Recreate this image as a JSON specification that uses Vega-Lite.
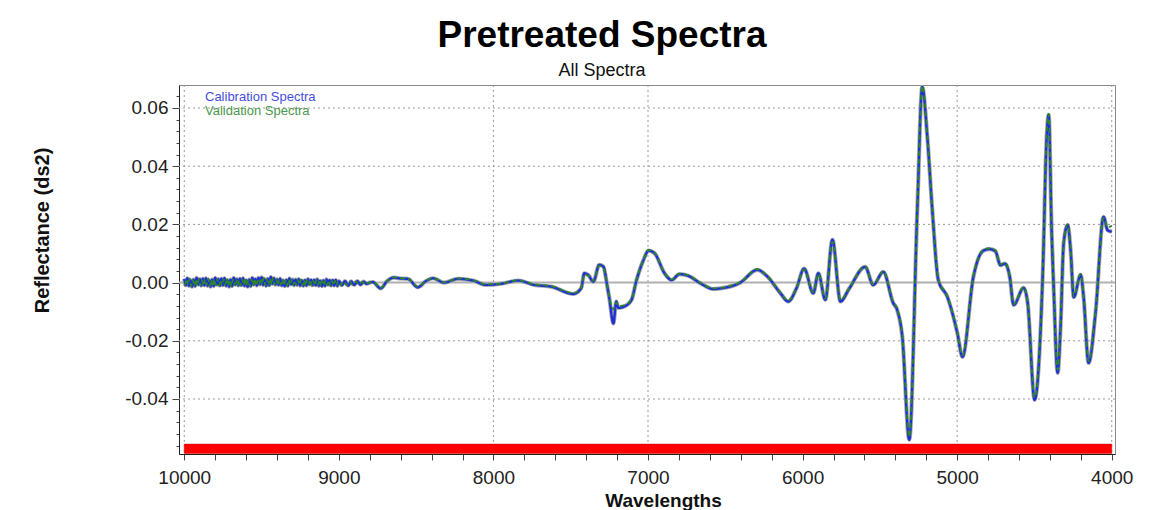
{
  "$schema": "https://vega.github.io/schema/vega-lite/v6.json",
  "autosize": {"type": "none"},
  "width": 936,
  "height": 369,
  "padding": {"left": 179, "top": 85, "right": 45, "bottom": 56},
  "background": "#ffffff",
  "config": {
    "view": {"stroke": "#8a8a8a", "strokeWidth": 1},
    "font": "Liberation Sans",
    "legend": {
      "orient": "none", "legendX": 13, "legendY": 5, "title": null,
      "symbolSize": 0, "symbolOpacity": 0, "symbolStrokeWidth": 0,
      "labelFont": "Liberation Sans", "labelFontSize": 13, "rowPadding": 0,
      "labelOffset": 0, "padding": 0, "labelLimit": 0,
      "labelColor": "#4040c0"
    }
  },
  "title": {
    "text": "Pretreated Spectra", "subtitle": "All Spectra",
    "anchor": "middle", "frame": "group", "dx": -45, "offset": 4,
    "font": "Liberation Sans", "fontSize": 37, "fontWeight": "bold", "color": "#000000",
    "subtitleFont": "Liberation Sans", "subtitleFontSize": 18, "subtitleColor": "#111111", "subtitlePadding": 7
  },
  "datasets": {
    "bar": [{"a": 10000, "b": 4000, "lo": -0.0555, "hi": -0.0587}],
    "gh": [{"g": 0.06}, {"g": 0.04}, {"g": 0.02}, {"g": -0.02}, {"g": -0.04}],
    "gv": [{"g": 10000}, {"g": 8000}, {"g": 7000}, {"g": 5000}, {"g": 4000}],
    "zero": [{"z": 0}],
    "spectra": [
      {"s": "Calibration Spectra", "w": 10000, "v": 0.0013},
      {"s": "Calibration Spectra", "w": 9990, "v": -0.0009},
      {"s": "Calibration Spectra", "w": 9980, "v": 0.0015},
      {"s": "Calibration Spectra", "w": 9970, "v": -0.0011},
      {"s": "Calibration Spectra", "w": 9960, "v": 0.0008},
      {"s": "Calibration Spectra", "w": 9950, "v": -0.0014},
      {"s": "Calibration Spectra", "w": 9940, "v": 0.0010},
      {"s": "Calibration Spectra", "w": 9930, "v": -0.0012},
      {"s": "Calibration Spectra", "w": 9920, "v": 0.0016},
      {"s": "Calibration Spectra", "w": 9910, "v": -0.0007},
      {"s": "Calibration Spectra", "w": 9900, "v": 0.0012},
      {"s": "Calibration Spectra", "w": 9890, "v": -0.0010},
      {"s": "Calibration Spectra", "w": 9880, "v": 0.0013},
      {"s": "Calibration Spectra", "w": 9870, "v": -0.0009},
      {"s": "Calibration Spectra", "w": 9860, "v": 0.0015},
      {"s": "Calibration Spectra", "w": 9850, "v": -0.0011},
      {"s": "Calibration Spectra", "w": 9840, "v": 0.0008},
      {"s": "Calibration Spectra", "w": 9830, "v": -0.0014},
      {"s": "Calibration Spectra", "w": 9820, "v": 0.0010},
      {"s": "Calibration Spectra", "w": 9810, "v": -0.0012},
      {"s": "Calibration Spectra", "w": 9800, "v": 0.0016},
      {"s": "Calibration Spectra", "w": 9790, "v": -0.0007},
      {"s": "Calibration Spectra", "w": 9780, "v": 0.0012},
      {"s": "Calibration Spectra", "w": 9770, "v": -0.0010},
      {"s": "Calibration Spectra", "w": 9760, "v": 0.0013},
      {"s": "Calibration Spectra", "w": 9750, "v": -0.0009},
      {"s": "Calibration Spectra", "w": 9740, "v": 0.0015},
      {"s": "Calibration Spectra", "w": 9730, "v": -0.0011},
      {"s": "Calibration Spectra", "w": 9720, "v": 0.0008},
      {"s": "Calibration Spectra", "w": 9710, "v": -0.0014},
      {"s": "Calibration Spectra", "w": 9700, "v": 0.0010},
      {"s": "Calibration Spectra", "w": 9690, "v": -0.0012},
      {"s": "Calibration Spectra", "w": 9680, "v": 0.0016},
      {"s": "Calibration Spectra", "w": 9670, "v": -0.0007},
      {"s": "Calibration Spectra", "w": 9660, "v": 0.0012},
      {"s": "Calibration Spectra", "w": 9650, "v": -0.0010},
      {"s": "Calibration Spectra", "w": 9640, "v": 0.0013},
      {"s": "Calibration Spectra", "w": 9630, "v": -0.0009},
      {"s": "Calibration Spectra", "w": 9620, "v": 0.0015},
      {"s": "Calibration Spectra", "w": 9610, "v": -0.0011},
      {"s": "Calibration Spectra", "w": 9600, "v": 0.0008},
      {"s": "Calibration Spectra", "w": 9590, "v": -0.0014},
      {"s": "Calibration Spectra", "w": 9580, "v": 0.0010},
      {"s": "Calibration Spectra", "w": 9570, "v": -0.0012},
      {"s": "Calibration Spectra", "w": 9560, "v": 0.0016},
      {"s": "Calibration Spectra", "w": 9550, "v": -0.0007},
      {"s": "Calibration Spectra", "w": 9540, "v": 0.0012},
      {"s": "Calibration Spectra", "w": 9530, "v": -0.0010},
      {"s": "Calibration Spectra", "w": 9520, "v": 0.0016},
      {"s": "Calibration Spectra", "w": 9510, "v": -0.0006},
      {"s": "Calibration Spectra", "w": 9500, "v": 0.0018},
      {"s": "Calibration Spectra", "w": 9490, "v": -0.0008},
      {"s": "Calibration Spectra", "w": 9480, "v": 0.0011},
      {"s": "Calibration Spectra", "w": 9470, "v": -0.0011},
      {"s": "Calibration Spectra", "w": 9460, "v": 0.0013},
      {"s": "Calibration Spectra", "w": 9450, "v": -0.0009},
      {"s": "Calibration Spectra", "w": 9440, "v": 0.0019},
      {"s": "Calibration Spectra", "w": 9430, "v": -0.0004},
      {"s": "Calibration Spectra", "w": 9420, "v": 0.0015},
      {"s": "Calibration Spectra", "w": 9410, "v": -0.0007},
      {"s": "Calibration Spectra", "w": 9400, "v": 0.0011},
      {"s": "Calibration Spectra", "w": 9390, "v": -0.0008},
      {"s": "Calibration Spectra", "w": 9380, "v": 0.0013},
      {"s": "Calibration Spectra", "w": 9370, "v": -0.0010},
      {"s": "Calibration Spectra", "w": 9360, "v": 0.0007},
      {"s": "Calibration Spectra", "w": 9350, "v": -0.0012},
      {"s": "Calibration Spectra", "w": 9340, "v": 0.0009},
      {"s": "Calibration Spectra", "w": 9330, "v": -0.0011},
      {"s": "Calibration Spectra", "w": 9320, "v": 0.0014},
      {"s": "Calibration Spectra", "w": 9310, "v": -0.0006},
      {"s": "Calibration Spectra", "w": 9300, "v": 0.0010},
      {"s": "Calibration Spectra", "w": 9290, "v": -0.0009},
      {"s": "Calibration Spectra", "w": 9280, "v": 0.0010},
      {"s": "Calibration Spectra", "w": 9270, "v": -0.0008},
      {"s": "Calibration Spectra", "w": 9260, "v": 0.0012},
      {"s": "Calibration Spectra", "w": 9250, "v": -0.0010},
      {"s": "Calibration Spectra", "w": 9240, "v": 0.0007},
      {"s": "Calibration Spectra", "w": 9230, "v": -0.0011},
      {"s": "Calibration Spectra", "w": 9220, "v": 0.0008},
      {"s": "Calibration Spectra", "w": 9210, "v": -0.0010},
      {"s": "Calibration Spectra", "w": 9200, "v": 0.0012},
      {"s": "Calibration Spectra", "w": 9190, "v": -0.0006},
      {"s": "Calibration Spectra", "w": 9180, "v": 0.0009},
      {"s": "Calibration Spectra", "w": 9170, "v": -0.0009},
      {"s": "Calibration Spectra", "w": 9160, "v": 0.0009},
      {"s": "Calibration Spectra", "w": 9150, "v": -0.0009},
      {"s": "Calibration Spectra", "w": 9140, "v": 0.0011},
      {"s": "Calibration Spectra", "w": 9130, "v": -0.0011},
      {"s": "Calibration Spectra", "w": 9120, "v": 0.0006},
      {"s": "Calibration Spectra", "w": 9110, "v": -0.0012},
      {"s": "Calibration Spectra", "w": 9100, "v": 0.0007},
      {"s": "Calibration Spectra", "w": 9090, "v": -0.0011},
      {"s": "Calibration Spectra", "w": 9080, "v": 0.0011},
      {"s": "Calibration Spectra", "w": 9070, "v": -0.0007},
      {"s": "Calibration Spectra", "w": 9060, "v": 0.0008},
      {"s": "Calibration Spectra", "w": 9050, "v": -0.0010},
      {"s": "Calibration Spectra", "w": 9040, "v": 0.0008},
      {"s": "Calibration Spectra", "w": 9030, "v": -0.0010},
      {"s": "Calibration Spectra", "w": 9020, "v": 0.0009},
      {"s": "Calibration Spectra", "w": 9010, "v": -0.0011},
      {"s": "Calibration Spectra", "w": 9000, "v": 0.0005},
      {"s": "Calibration Spectra", "w": 8980, "v": -0.0009},
      {"s": "Calibration Spectra", "w": 8960, "v": 0.0005},
      {"s": "Calibration Spectra", "w": 8940, "v": -0.0010},
      {"s": "Calibration Spectra", "w": 8920, "v": 0.0004},
      {"s": "Calibration Spectra", "w": 8900, "v": -0.0008},
      {"s": "Calibration Spectra", "w": 8880, "v": 0.0005},
      {"s": "Calibration Spectra", "w": 8860, "v": -0.0007},
      {"s": "Calibration Spectra", "w": 8840, "v": 0.0003},
      {"s": "Calibration Spectra", "w": 8820, "v": -0.0004},
      {"s": "Calibration Spectra", "w": 8800, "v": 0.0000},
      {"s": "Calibration Spectra", "w": 8781, "v": 0.0002},
      {"s": "Calibration Spectra", "w": 8729, "v": -0.0020},
      {"s": "Calibration Spectra", "w": 8690, "v": 0.0004},
      {"s": "Calibration Spectra", "w": 8644, "v": 0.0017},
      {"s": "Calibration Spectra", "w": 8600, "v": 0.0014},
      {"s": "Calibration Spectra", "w": 8554, "v": 0.0013},
      {"s": "Calibration Spectra", "w": 8489, "v": -0.0016},
      {"s": "Calibration Spectra", "w": 8440, "v": 0.0004},
      {"s": "Calibration Spectra", "w": 8391, "v": 0.0015},
      {"s": "Calibration Spectra", "w": 8320, "v": 0.0000},
      {"s": "Calibration Spectra", "w": 8229, "v": 0.0013},
      {"s": "Calibration Spectra", "w": 8126, "v": 0.0006},
      {"s": "Calibration Spectra", "w": 8048, "v": -0.0008},
      {"s": "Calibration Spectra", "w": 7950, "v": -0.0004},
      {"s": "Calibration Spectra", "w": 7840, "v": 0.0007},
      {"s": "Calibration Spectra", "w": 7736, "v": -0.0008},
      {"s": "Calibration Spectra", "w": 7626, "v": -0.0014},
      {"s": "Calibration Spectra", "w": 7483, "v": -0.0039},
      {"s": "Calibration Spectra", "w": 7432, "v": -0.0019},
      {"s": "Calibration Spectra", "w": 7412, "v": 0.0032},
      {"s": "Calibration Spectra", "w": 7386, "v": 0.0026},
      {"s": "Calibration Spectra", "w": 7354, "v": 0.0003},
      {"s": "Calibration Spectra", "w": 7315, "v": 0.0061},
      {"s": "Calibration Spectra", "w": 7289, "v": 0.0055},
      {"s": "Calibration Spectra", "w": 7263, "v": -0.0014},
      {"s": "Calibration Spectra", "w": 7250, "v": -0.0054},
      {"s": "Calibration Spectra", "w": 7224, "v": -0.0140},
      {"s": "Calibration Spectra", "w": 7205, "v": -0.0065},
      {"s": "Calibration Spectra", "w": 7192, "v": -0.0087},
      {"s": "Calibration Spectra", "w": 7153, "v": -0.0082},
      {"s": "Calibration Spectra", "w": 7107, "v": -0.0060},
      {"s": "Calibration Spectra", "w": 7075, "v": 0.0007},
      {"s": "Calibration Spectra", "w": 7029, "v": 0.0078},
      {"s": "Calibration Spectra", "w": 6997, "v": 0.0110},
      {"s": "Calibration Spectra", "w": 6958, "v": 0.0101},
      {"s": "Calibration Spectra", "w": 6893, "v": 0.0032},
      {"s": "Calibration Spectra", "w": 6848, "v": 0.0009},
      {"s": "Calibration Spectra", "w": 6796, "v": 0.0029},
      {"s": "Calibration Spectra", "w": 6738, "v": 0.0023},
      {"s": "Calibration Spectra", "w": 6662, "v": -0.0002},
      {"s": "Calibration Spectra", "w": 6578, "v": -0.0022},
      {"s": "Calibration Spectra", "w": 6532, "v": -0.0020},
      {"s": "Calibration Spectra", "w": 6403, "v": 0.0000},
      {"s": "Calibration Spectra", "w": 6293, "v": 0.0044},
      {"s": "Calibration Spectra", "w": 6228, "v": 0.0021},
      {"s": "Calibration Spectra", "w": 6144, "v": -0.0036},
      {"s": "Calibration Spectra", "w": 6093, "v": -0.0065},
      {"s": "Calibration Spectra", "w": 6040, "v": -0.0020},
      {"s": "Calibration Spectra", "w": 5990, "v": 0.0048},
      {"s": "Calibration Spectra", "w": 5931, "v": -0.0036},
      {"s": "Calibration Spectra", "w": 5898, "v": 0.0032},
      {"s": "Calibration Spectra", "w": 5853, "v": -0.0059},
      {"s": "Calibration Spectra", "w": 5807, "v": 0.0147},
      {"s": "Calibration Spectra", "w": 5755, "v": -0.0065},
      {"s": "Calibration Spectra", "w": 5700, "v": -0.0022},
      {"s": "Calibration Spectra", "w": 5595, "v": 0.0054},
      {"s": "Calibration Spectra", "w": 5543, "v": -0.0008},
      {"s": "Calibration Spectra", "w": 5478, "v": 0.0037},
      {"s": "Calibration Spectra", "w": 5414, "v": -0.0070},
      {"s": "Calibration Spectra", "w": 5388, "v": -0.0094},
      {"s": "Calibration Spectra", "w": 5355, "v": -0.0186},
      {"s": "Calibration Spectra", "w": 5310, "v": -0.0540},
      {"s": "Calibration Spectra", "w": 5258, "v": 0.0250},
      {"s": "Calibration Spectra", "w": 5226, "v": 0.0672},
      {"s": "Calibration Spectra", "w": 5193, "v": 0.0500},
      {"s": "Calibration Spectra", "w": 5161, "v": 0.0250},
      {"s": "Calibration Spectra", "w": 5122, "v": 0.0009},
      {"s": "Calibration Spectra", "w": 5063, "v": -0.0050},
      {"s": "Calibration Spectra", "w": 4999, "v": -0.0173},
      {"s": "Calibration Spectra", "w": 4966, "v": -0.0255},
      {"s": "Calibration Spectra", "w": 4895, "v": 0.0020},
      {"s": "Calibration Spectra", "w": 4830, "v": 0.0110},
      {"s": "Calibration Spectra", "w": 4790, "v": 0.0115},
      {"s": "Calibration Spectra", "w": 4753, "v": 0.0108},
      {"s": "Calibration Spectra", "w": 4720, "v": 0.0060},
      {"s": "Calibration Spectra", "w": 4690, "v": 0.0065},
      {"s": "Calibration Spectra", "w": 4660, "v": 0.0020},
      {"s": "Calibration Spectra", "w": 4635, "v": -0.0077},
      {"s": "Calibration Spectra", "w": 4570, "v": -0.0018},
      {"s": "Calibration Spectra", "w": 4544, "v": -0.0070},
      {"s": "Calibration Spectra", "w": 4499, "v": -0.0403},
      {"s": "Calibration Spectra", "w": 4447, "v": 0.0020},
      {"s": "Calibration Spectra", "w": 4421, "v": 0.0500},
      {"s": "Calibration Spectra", "w": 4408, "v": 0.0576},
      {"s": "Calibration Spectra", "w": 4389, "v": 0.0180},
      {"s": "Calibration Spectra", "w": 4376, "v": -0.0014},
      {"s": "Calibration Spectra", "w": 4350, "v": -0.0310},
      {"s": "Calibration Spectra", "w": 4331, "v": -0.0150},
      {"s": "Calibration Spectra", "w": 4311, "v": 0.0136},
      {"s": "Calibration Spectra", "w": 4285, "v": 0.0198},
      {"s": "Calibration Spectra", "w": 4266, "v": 0.0110},
      {"s": "Calibration Spectra", "w": 4246, "v": -0.0050},
      {"s": "Calibration Spectra", "w": 4201, "v": 0.0027},
      {"s": "Calibration Spectra", "w": 4182, "v": -0.0050},
      {"s": "Calibration Spectra", "w": 4150, "v": -0.0276},
      {"s": "Calibration Spectra", "w": 4105, "v": -0.0104},
      {"s": "Calibration Spectra", "w": 4053, "v": 0.0226},
      {"s": "Calibration Spectra", "w": 4027, "v": 0.0180},
      {"s": "Calibration Spectra", "w": 4000, "v": 0.0175},

      {"s": "Validation Spectra", "w": 9995, "v": -0.0010},
      {"s": "Validation Spectra", "w": 9985, "v": 0.0012},
      {"s": "Validation Spectra", "w": 9975, "v": -0.0008},
      {"s": "Validation Spectra", "w": 9965, "v": 0.0014},
      {"s": "Validation Spectra", "w": 9955, "v": -0.0012},
      {"s": "Validation Spectra", "w": 9945, "v": 0.0009},
      {"s": "Validation Spectra", "w": 9935, "v": -0.0013},
      {"s": "Validation Spectra", "w": 9925, "v": 0.0011},
      {"s": "Validation Spectra", "w": 9915, "v": -0.0009},
      {"s": "Validation Spectra", "w": 9905, "v": 0.0013},
      {"s": "Validation Spectra", "w": 9895, "v": -0.0011},
      {"s": "Validation Spectra", "w": 9885, "v": 0.0008},
      {"s": "Validation Spectra", "w": 9875, "v": -0.0010},
      {"s": "Validation Spectra", "w": 9865, "v": 0.0012},
      {"s": "Validation Spectra", "w": 9855, "v": -0.0008},
      {"s": "Validation Spectra", "w": 9845, "v": 0.0014},
      {"s": "Validation Spectra", "w": 9835, "v": -0.0012},
      {"s": "Validation Spectra", "w": 9825, "v": 0.0009},
      {"s": "Validation Spectra", "w": 9815, "v": -0.0013},
      {"s": "Validation Spectra", "w": 9805, "v": 0.0011},
      {"s": "Validation Spectra", "w": 9795, "v": -0.0009},
      {"s": "Validation Spectra", "w": 9785, "v": 0.0013},
      {"s": "Validation Spectra", "w": 9775, "v": -0.0011},
      {"s": "Validation Spectra", "w": 9765, "v": 0.0008},
      {"s": "Validation Spectra", "w": 9755, "v": -0.0010},
      {"s": "Validation Spectra", "w": 9745, "v": 0.0012},
      {"s": "Validation Spectra", "w": 9735, "v": -0.0008},
      {"s": "Validation Spectra", "w": 9725, "v": 0.0014},
      {"s": "Validation Spectra", "w": 9715, "v": -0.0012},
      {"s": "Validation Spectra", "w": 9705, "v": 0.0009},
      {"s": "Validation Spectra", "w": 9695, "v": -0.0013},
      {"s": "Validation Spectra", "w": 9685, "v": 0.0011},
      {"s": "Validation Spectra", "w": 9675, "v": -0.0009},
      {"s": "Validation Spectra", "w": 9665, "v": 0.0013},
      {"s": "Validation Spectra", "w": 9655, "v": -0.0011},
      {"s": "Validation Spectra", "w": 9645, "v": 0.0008},
      {"s": "Validation Spectra", "w": 9635, "v": -0.0010},
      {"s": "Validation Spectra", "w": 9625, "v": 0.0012},
      {"s": "Validation Spectra", "w": 9615, "v": -0.0008},
      {"s": "Validation Spectra", "w": 9605, "v": 0.0014},
      {"s": "Validation Spectra", "w": 9595, "v": -0.0012},
      {"s": "Validation Spectra", "w": 9585, "v": 0.0009},
      {"s": "Validation Spectra", "w": 9575, "v": -0.0013},
      {"s": "Validation Spectra", "w": 9565, "v": 0.0011},
      {"s": "Validation Spectra", "w": 9555, "v": -0.0009},
      {"s": "Validation Spectra", "w": 9545, "v": 0.0013},
      {"s": "Validation Spectra", "w": 9535, "v": -0.0011},
      {"s": "Validation Spectra", "w": 9525, "v": 0.0008},
      {"s": "Validation Spectra", "w": 9515, "v": -0.0007},
      {"s": "Validation Spectra", "w": 9505, "v": 0.0015},
      {"s": "Validation Spectra", "w": 9495, "v": -0.0005},
      {"s": "Validation Spectra", "w": 9485, "v": 0.0017},
      {"s": "Validation Spectra", "w": 9475, "v": -0.0009},
      {"s": "Validation Spectra", "w": 9465, "v": 0.0012},
      {"s": "Validation Spectra", "w": 9455, "v": -0.0010},
      {"s": "Validation Spectra", "w": 9445, "v": 0.0014},
      {"s": "Validation Spectra", "w": 9435, "v": -0.0006},
      {"s": "Validation Spectra", "w": 9425, "v": 0.0016},
      {"s": "Validation Spectra", "w": 9415, "v": -0.0008},
      {"s": "Validation Spectra", "w": 9405, "v": 0.0011},
      {"s": "Validation Spectra", "w": 9395, "v": -0.0009},
      {"s": "Validation Spectra", "w": 9385, "v": 0.0010},
      {"s": "Validation Spectra", "w": 9375, "v": -0.0007},
      {"s": "Validation Spectra", "w": 9365, "v": 0.0012},
      {"s": "Validation Spectra", "w": 9355, "v": -0.0010},
      {"s": "Validation Spectra", "w": 9345, "v": 0.0008},
      {"s": "Validation Spectra", "w": 9335, "v": -0.0011},
      {"s": "Validation Spectra", "w": 9325, "v": 0.0010},
      {"s": "Validation Spectra", "w": 9315, "v": -0.0008},
      {"s": "Validation Spectra", "w": 9305, "v": 0.0011},
      {"s": "Validation Spectra", "w": 9295, "v": -0.0009},
      {"s": "Validation Spectra", "w": 9285, "v": 0.0007},
      {"s": "Validation Spectra", "w": 9275, "v": -0.0009},
      {"s": "Validation Spectra", "w": 9265, "v": 0.0010},
      {"s": "Validation Spectra", "w": 9255, "v": -0.0007},
      {"s": "Validation Spectra", "w": 9245, "v": 0.0011},
      {"s": "Validation Spectra", "w": 9235, "v": -0.0010},
      {"s": "Validation Spectra", "w": 9225, "v": 0.0008},
      {"s": "Validation Spectra", "w": 9215, "v": -0.0011},
      {"s": "Validation Spectra", "w": 9205, "v": 0.0009},
      {"s": "Validation Spectra", "w": 9195, "v": -0.0008},
      {"s": "Validation Spectra", "w": 9185, "v": 0.0010},
      {"s": "Validation Spectra", "w": 9175, "v": -0.0010},
      {"s": "Validation Spectra", "w": 9165, "v": 0.0006},
      {"s": "Validation Spectra", "w": 9155, "v": -0.0010},
      {"s": "Validation Spectra", "w": 9145, "v": 0.0009},
      {"s": "Validation Spectra", "w": 9135, "v": -0.0008},
      {"s": "Validation Spectra", "w": 9125, "v": 0.0010},
      {"s": "Validation Spectra", "w": 9115, "v": -0.0011},
      {"s": "Validation Spectra", "w": 9105, "v": 0.0006},
      {"s": "Validation Spectra", "w": 9095, "v": -0.0010},
      {"s": "Validation Spectra", "w": 9085, "v": 0.0008},
      {"s": "Validation Spectra", "w": 9075, "v": -0.0009},
      {"s": "Validation Spectra", "w": 9065, "v": 0.0007},
      {"s": "Validation Spectra", "w": 9055, "v": -0.0011},
      {"s": "Validation Spectra", "w": 9045, "v": 0.0006},
      {"s": "Validation Spectra", "w": 9035, "v": -0.0009},
      {"s": "Validation Spectra", "w": 9025, "v": 0.0007},
      {"s": "Validation Spectra", "w": 9015, "v": -0.0010},
      {"s": "Validation Spectra", "w": 9005, "v": 0.0005},
      {"s": "Validation Spectra", "w": 8990, "v": -0.0008},
      {"s": "Validation Spectra", "w": 8970, "v": 0.0004},
      {"s": "Validation Spectra", "w": 8950, "v": -0.0009},
      {"s": "Validation Spectra", "w": 8930, "v": 0.0004},
      {"s": "Validation Spectra", "w": 8910, "v": -0.0008},
      {"s": "Validation Spectra", "w": 8890, "v": 0.0004},
      {"s": "Validation Spectra", "w": 8870, "v": -0.0007},
      {"s": "Validation Spectra", "w": 8850, "v": 0.0003},
      {"s": "Validation Spectra", "w": 8830, "v": -0.0005},
      {"s": "Validation Spectra", "w": 8800, "v": 0.0001},
      {"s": "Validation Spectra", "w": 8781, "v": 0.0003},
      {"s": "Validation Spectra", "w": 8729, "v": -0.0018},
      {"s": "Validation Spectra", "w": 8690, "v": 0.0005},
      {"s": "Validation Spectra", "w": 8644, "v": 0.0018},
      {"s": "Validation Spectra", "w": 8600, "v": 0.0015},
      {"s": "Validation Spectra", "w": 8554, "v": 0.0014},
      {"s": "Validation Spectra", "w": 8489, "v": -0.0014},
      {"s": "Validation Spectra", "w": 8440, "v": 0.0005},
      {"s": "Validation Spectra", "w": 8391, "v": 0.0016},
      {"s": "Validation Spectra", "w": 8320, "v": 0.0001},
      {"s": "Validation Spectra", "w": 8229, "v": 0.0014},
      {"s": "Validation Spectra", "w": 8126, "v": 0.0007},
      {"s": "Validation Spectra", "w": 8048, "v": -0.0006},
      {"s": "Validation Spectra", "w": 7950, "v": -0.0003},
      {"s": "Validation Spectra", "w": 7840, "v": 0.0008},
      {"s": "Validation Spectra", "w": 7736, "v": -0.0006},
      {"s": "Validation Spectra", "w": 7626, "v": -0.0012},
      {"s": "Validation Spectra", "w": 7483, "v": -0.0036},
      {"s": "Validation Spectra", "w": 7432, "v": -0.0017},
      {"s": "Validation Spectra", "w": 7412, "v": 0.0028},
      {"s": "Validation Spectra", "w": 7386, "v": 0.0024},
      {"s": "Validation Spectra", "w": 7354, "v": 0.0006},
      {"s": "Validation Spectra", "w": 7315, "v": 0.0058},
      {"s": "Validation Spectra", "w": 7289, "v": 0.0050},
      {"s": "Validation Spectra", "w": 7263, "v": -0.0010},
      {"s": "Validation Spectra", "w": 7250, "v": -0.0050},
      {"s": "Validation Spectra", "w": 7224, "v": -0.0092},
      {"s": "Validation Spectra", "w": 7205, "v": -0.0068},
      {"s": "Validation Spectra", "w": 7192, "v": -0.0080},
      {"s": "Validation Spectra", "w": 7153, "v": -0.0078},
      {"s": "Validation Spectra", "w": 7107, "v": -0.0056},
      {"s": "Validation Spectra", "w": 7075, "v": 0.0010},
      {"s": "Validation Spectra", "w": 7029, "v": 0.0080},
      {"s": "Validation Spectra", "w": 6997, "v": 0.0112},
      {"s": "Validation Spectra", "w": 6958, "v": 0.0103},
      {"s": "Validation Spectra", "w": 6893, "v": 0.0034},
      {"s": "Validation Spectra", "w": 6848, "v": 0.0011},
      {"s": "Validation Spectra", "w": 6796, "v": 0.0031},
      {"s": "Validation Spectra", "w": 6738, "v": 0.0025},
      {"s": "Validation Spectra", "w": 6662, "v": 0.0000},
      {"s": "Validation Spectra", "w": 6578, "v": -0.0020},
      {"s": "Validation Spectra", "w": 6532, "v": -0.0018},
      {"s": "Validation Spectra", "w": 6403, "v": 0.0002},
      {"s": "Validation Spectra", "w": 6293, "v": 0.0046},
      {"s": "Validation Spectra", "w": 6228, "v": 0.0023},
      {"s": "Validation Spectra", "w": 6144, "v": -0.0034},
      {"s": "Validation Spectra", "w": 6093, "v": -0.0062},
      {"s": "Validation Spectra", "w": 6040, "v": -0.0018},
      {"s": "Validation Spectra", "w": 5990, "v": 0.0045},
      {"s": "Validation Spectra", "w": 5931, "v": -0.0033},
      {"s": "Validation Spectra", "w": 5898, "v": 0.0030},
      {"s": "Validation Spectra", "w": 5853, "v": -0.0055},
      {"s": "Validation Spectra", "w": 5807, "v": 0.0140},
      {"s": "Validation Spectra", "w": 5755, "v": -0.0060},
      {"s": "Validation Spectra", "w": 5700, "v": -0.0020},
      {"s": "Validation Spectra", "w": 5595, "v": 0.0056},
      {"s": "Validation Spectra", "w": 5543, "v": -0.0006},
      {"s": "Validation Spectra", "w": 5478, "v": 0.0039},
      {"s": "Validation Spectra", "w": 5414, "v": -0.0066},
      {"s": "Validation Spectra", "w": 5388, "v": -0.0090},
      {"s": "Validation Spectra", "w": 5355, "v": -0.0180},
      {"s": "Validation Spectra", "w": 5310, "v": -0.0530},
      {"s": "Validation Spectra", "w": 5258, "v": 0.0245},
      {"s": "Validation Spectra", "w": 5226, "v": 0.0676},
      {"s": "Validation Spectra", "w": 5193, "v": 0.0505},
      {"s": "Validation Spectra", "w": 5161, "v": 0.0255},
      {"s": "Validation Spectra", "w": 5122, "v": 0.0012},
      {"s": "Validation Spectra", "w": 5063, "v": -0.0047},
      {"s": "Validation Spectra", "w": 4999, "v": -0.0168},
      {"s": "Validation Spectra", "w": 4966, "v": -0.0250},
      {"s": "Validation Spectra", "w": 4895, "v": 0.0024},
      {"s": "Validation Spectra", "w": 4830, "v": 0.0113},
      {"s": "Validation Spectra", "w": 4790, "v": 0.0118},
      {"s": "Validation Spectra", "w": 4753, "v": 0.0111},
      {"s": "Validation Spectra", "w": 4720, "v": 0.0063},
      {"s": "Validation Spectra", "w": 4690, "v": 0.0068},
      {"s": "Validation Spectra", "w": 4660, "v": 0.0023},
      {"s": "Validation Spectra", "w": 4635, "v": -0.0074},
      {"s": "Validation Spectra", "w": 4570, "v": -0.0015},
      {"s": "Validation Spectra", "w": 4544, "v": -0.0066},
      {"s": "Validation Spectra", "w": 4499, "v": -0.0395},
      {"s": "Validation Spectra", "w": 4447, "v": 0.0024},
      {"s": "Validation Spectra", "w": 4421, "v": 0.0510},
      {"s": "Validation Spectra", "w": 4408, "v": 0.0580},
      {"s": "Validation Spectra", "w": 4389, "v": 0.0185},
      {"s": "Validation Spectra", "w": 4376, "v": -0.0010},
      {"s": "Validation Spectra", "w": 4350, "v": -0.0300},
      {"s": "Validation Spectra", "w": 4331, "v": -0.0145},
      {"s": "Validation Spectra", "w": 4311, "v": 0.0140},
      {"s": "Validation Spectra", "w": 4285, "v": 0.0200},
      {"s": "Validation Spectra", "w": 4266, "v": 0.0114},
      {"s": "Validation Spectra", "w": 4246, "v": -0.0046},
      {"s": "Validation Spectra", "w": 4201, "v": 0.0030},
      {"s": "Validation Spectra", "w": 4182, "v": -0.0046},
      {"s": "Validation Spectra", "w": 4150, "v": -0.0270},
      {"s": "Validation Spectra", "w": 4105, "v": -0.0100},
      {"s": "Validation Spectra", "w": 4053, "v": 0.0222},
      {"s": "Validation Spectra", "w": 4027, "v": 0.0190},
      {"s": "Validation Spectra", "w": 4000, "v": 0.0195}
    ]
  },
  "layer": [
    {
      "data": {"name": "gh"},
      "mark": {"type": "rule", "color": "#9a9a9a", "strokeWidth": 1, "strokeDash": [2, 3]},
      "encoding": {
        "y": {"field": "g", "type": "quantitative", "title": "Reflectance (ds2)",
              "scale": {"domain": [-0.0589, 0.0679], "nice": false, "zero": false}}
      }
    },
    {
      "data": {"name": "gv"},
      "mark": {"type": "rule", "color": "#9a9a9a", "strokeWidth": 1, "strokeDash": [2, 3]},
      "encoding": {
        "x": {"field": "g", "type": "quantitative", "title": "Wavelengths",
              "scale": {"domain": [3979, 10034], "reverse": true, "nice": false, "zero": false}}
      }
    },
    {
      "data": {"name": "zero"},
      "mark": {"type": "rule", "color": "#b0b0b0", "strokeWidth": 2},
      "encoding": {
        "y": {"field": "z", "type": "quantitative", "title": "Reflectance (ds2)"}
      }
    },
    {
      "data": {"name": "bar"},
      "mark": {"type": "rect", "color": "#ff0000", "stroke": "#cc0000", "strokeWidth": 0.5},
      "encoding": {
        "x": {"field": "a", "type": "quantitative", "title": "Wavelengths"},
        "x2": {"field": "b"},
        "y": {"field": "lo", "type": "quantitative", "title": "Reflectance (ds2)"},
        "y2": {"field": "hi"}
      }
    },
    {
      "data": {"name": "spectra"},
      "transform": [{"filter": "datum.s === 'Calibration Spectra'"}],
      "mark": {"type": "line", "color": "#a8a8a8", "strokeWidth": 4.2, "clip": true, "interpolate": "monotone"},
      "encoding": {
        "x": {"field": "w", "type": "quantitative", "title": "Wavelengths"},
        "y": {"field": "v", "type": "quantitative", "title": "Reflectance (ds2)"},
        "order": {"field": "w", "sort": "descending"}
      }
    },
    {
      "data": {"name": "spectra"},
      "mark": {"type": "line", "clip": true, "interpolate": "monotone"},
      "encoding": {
        "x": {"field": "w", "type": "quantitative", "title": "Wavelengths",
              "scale": {"domain": [3979, 10034], "reverse": true, "nice": false, "zero": false},
              "axis": {
                "values": [10000, 9800, 9600, 9400, 9200, 9000, 8800, 8600, 8400, 8200, 8000, 7800, 7600, 7400, 7200, 7000, 6800, 6600, 6400, 6200, 6000, 5800, 5600, 5400, 5200, 5000, 4800, 4600, 4400, 4200, 4000],
                "tickCount": 200,
                "format": "d",
                "labelExpr": "datum.value % 1000 === 0 ? datum.label : ''",
                "labelOverlap": false, "labelBound": false, "labelFlush": false,
                "grid": false, "tickSize": 6, "tickColor": "#444444", "domainColor": "#222222",
                "labelFont": "Liberation Sans", "labelFontSize": 19, "labelColor": "#222222", "labelPadding": 8,
                "titleFont": "Liberation Sans", "titleFontSize": 19, "titleFontWeight": "bold", "titleColor": "#111111",
                "titleX": 484, "titleY": 52, "titleBaseline": "alphabetic"
              }},
        "y": {"field": "v", "type": "quantitative", "title": "Reflectance (ds2)",
              "scale": {"domain": [-0.0589, 0.0679], "nice": false, "zero": false},
              "axis": {
                "values": [-0.056, -0.052, -0.048, -0.044, -0.04, -0.036, -0.032, -0.028, -0.024, -0.02, -0.016, -0.012, -0.008, -0.004, 0, 0.004, 0.008, 0.012, 0.016, 0.02, 0.024, 0.028, 0.032, 0.036, 0.04, 0.044, 0.048, 0.052, 0.056, 0.06, 0.064],
                "tickCount": 200,
                "labelExpr": "abs(round(datum.value * 1000)) % 20 === 0 ? (datum.value < 0 ? '-' : '') + format(abs(datum.value), '.2f') : ''",
                "labelOverlap": false, "labelBound": false, "labelFlush": false,
                "grid": false,
                "tickSize": {"condition": {"test": "abs(round(datum.value * 1000)) % 20 === 0", "value": 7}, "value": 3},
                "tickColor": "#444444", "domainColor": "#222222",
                "labelFont": "Liberation Sans", "labelFontSize": 19, "labelColor": "#222222", "labelPadding": 4,
                "titleFont": "Liberation Sans", "titleFontSize": 20, "titleFontWeight": "bold", "titleColor": "#111111",
                "titleX": -137, "titleY": 145, "titleAngle": -90, "titleAlign": "center", "titleBaseline": "middle"
              }},
        "color": {"field": "s", "type": "nominal",
                  "scale": {"domain": ["Calibration Spectra", "Validation Spectra"], "range": ["#1e2ed8", "#2a862a"]},
                  "legend": {"encode": {"labels": {"update": {"fill": {"scale": "color", "field": "value"}, "opacity": {"value": 0.85}}}}}},
        "strokeWidth": {"field": "s", "type": "nominal",
                        "scale": {"domain": ["Calibration Spectra", "Validation Spectra"], "range": [2.4, 1.8]},
                        "legend": null},
        "strokeDash": {"field": "s", "type": "nominal",
                       "scale": {"domain": ["Calibration Spectra", "Validation Spectra"], "range": [[1, 0], [5, 3]]},
                       "legend": null},
        "order": {"field": "w", "sort": "descending"}
      }
    }
  ]
}
